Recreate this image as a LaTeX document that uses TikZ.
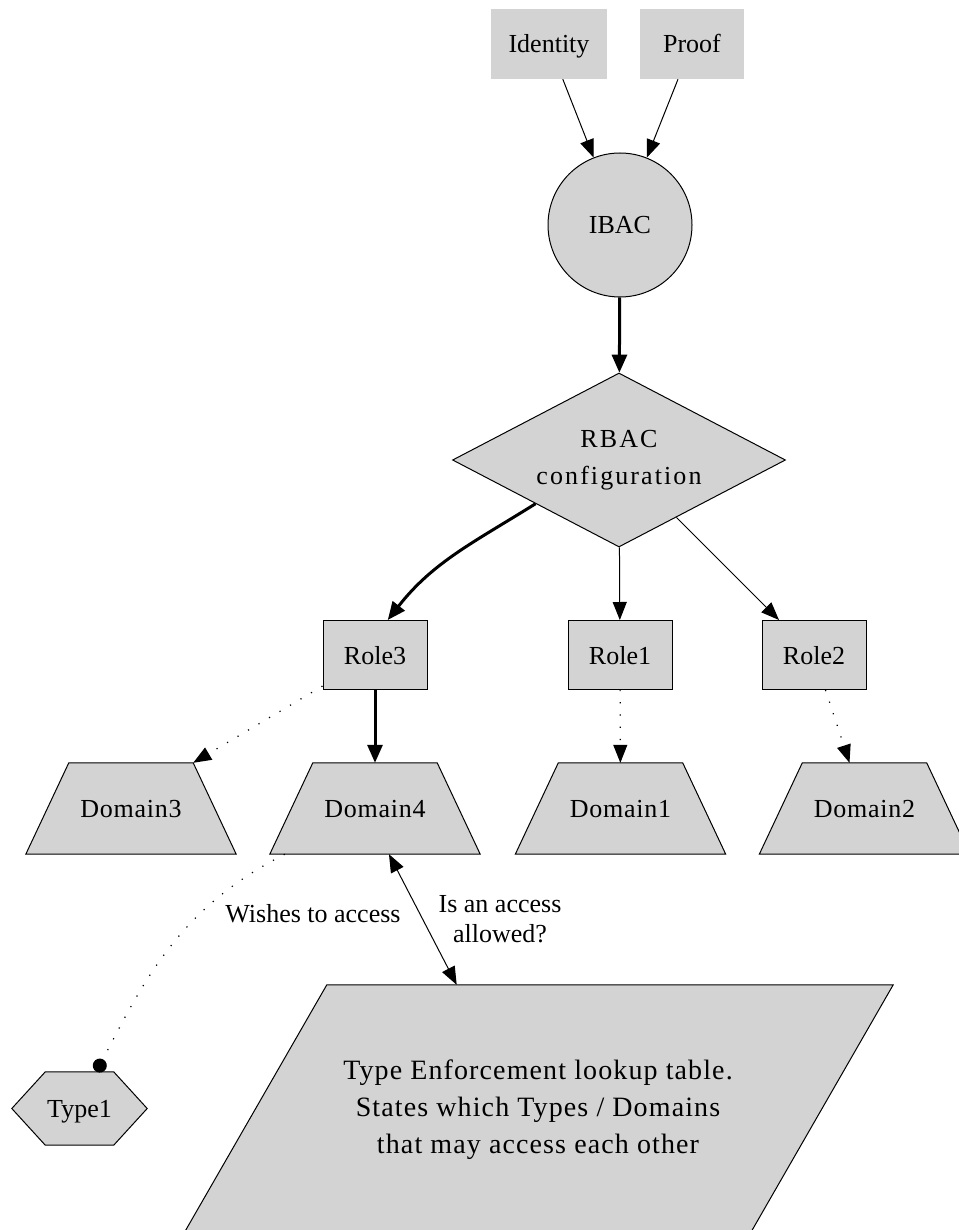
\documentclass[tikz,border=0pt]{standalone}
\usepackage{fontspec}
\setmainfont{Liberation Serif}
\usetikzlibrary{shapes.geometric,arrows.meta,calc,backgrounds}
\definecolor{gvgray}{RGB}{211,211,211}
\begin{document}
\begin{tikzpicture}[x=1pt,y=1pt,
  every node/.style={font=\fontsize{26}{31}\selectfont, inner sep=0pt},
  oneline/.style={text height=20pt, text depth=2pt},
  plainbox/.style={oneline, rectangle, fill=gvgray, minimum width=#1, minimum height=70pt},
  rolebox/.style={oneline, rectangle, draw, fill=gvgray, line width=1pt, minimum width=104pt, minimum height=69pt},
  domainbox/.style={oneline, rectangle, minimum width=124pt, minimum height=91pt, font=\fontsize{26}{31}\selectfont\addfontfeatures{LetterSpace=3}},
  shapeline/.style={fill=gvgray, draw, line width=1pt},
  thinedge/.style={line width=1pt, -{Triangle[length=18pt,width=14pt]}},
  thickedge/.style={line width=3pt, -{Triangle[length=18pt,width=15pt]}},
  dotedge/.style={line width=1.2pt, dash pattern=on 1.2pt off 11pt, -{Triangle[length=18pt,width=14pt]}},
  wishedge/.style={line width=1.2pt, dash pattern=on 1.2pt off 11pt, -{Circle[length=14pt]}},
  bothedge/.style={line width=1pt, {Triangle[length=18pt,width=14pt]}-{Triangle[length=18pt,width=14pt]}},
]
\useasboundingbox (0,0) rectangle (958,-1230);

\node[plainbox=116pt] (identity) at (549,-44) {Identity};
\node[plainbox=104pt] (proof) at (692,-44) {Proof};
\node[oneline, circle, draw, fill=gvgray, line width=1pt, minimum size=144pt] (ibac) at (620,-225) {IBAC};
\node[diamond, aspect=1.91, draw, fill=gvgray, line width=1pt, minimum width=333pt, minimum height=174pt, align=center, font=\fontsize{26}{37}\selectfont\addfontfeatures{LetterSpace=8}] (rbac) at (619,-460) {RBAC\\configuration};

\node[rolebox] (role3) at (375,-655) {Role3};
\node[rolebox] (role1) at (620,-655) {Role1};
\node[rolebox] (role2) at (814,-655) {Role2};

\node[domainbox] (dom3) at (131,-808.5) {Domain3};
\node[domainbox] (dom4) at (375,-808.5) {Domain4};
\node[domainbox] (dom1) at (620.5,-808.5) {Domain1};
\node[domainbox] (dom2) at (864.5,-808.5) {Domain2};

\node[oneline, rectangle, minimum width=135pt, minimum height=73pt] (type1) at (79.5,-1108.5) {Type1};

\node[rectangle, minimum width=566pt, minimum height=250pt, align=center, font=\fontsize{28}{37}\selectfont\addfontfeatures{LetterSpace=4}] (table) at (538,-1110) {Type Enforcement lookup table.\\States which Types / Domains\\that may access each other};

\begin{scope}[on background layer]
\foreach \d in {dom3,dom4,dom1,dom2}{
  \path[shapeline] (\d.north west) -- (\d.north east) -- ([xshift=43pt]\d.south east) -- ([xshift=-43pt]\d.south west) -- cycle;
}
\path[shapeline] (type1.west) -- ([xshift=33.5pt]type1.north west) -- ([xshift=-33.5pt]type1.north east) -- (type1.east) -- ([xshift=-33.5pt]type1.south east) -- ([xshift=33.5pt]type1.south west) -- cycle;
\path[shapeline] ([xshift=72pt]table.north west) -- ([xshift=72pt]table.north east) -- ([xshift=-72pt]table.south east) -- ([xshift=-72pt]table.south west) -- cycle;
\end{scope}

\node (wish) at (313,-914) {Wishes to access};
\node[align=center, font=\fontsize{26}{30}\selectfont] (allowed) at (500,-919) {Is an access\\allowed?};

\draw[thinedge] (identity) -- (ibac);
\draw[thinedge] (proof) -- (ibac);
\draw[thickedge] (ibac) -- (rbac);
\draw[thickedge] (rbac.south west) to[out=212,in=52] (role3.70);
\draw[thinedge] (rbac) -- (role1);
\draw[thinedge] (rbac) -- (role2);
\draw[dotedge] (role3) -- (dom3.north east);
\draw[thickedge] (role3) -- (dom4);
\draw[dotedge] (role1) -- (dom1);
\draw[dotedge] (role2) -- (dom2);
\draw[wishedge] ([xshift=-28pt]dom4.south west) to[out=207,in=63] (type1.65);
\draw[bothedge] (dom4.-73) -- (table.123);
\end{tikzpicture}
\end{document}
